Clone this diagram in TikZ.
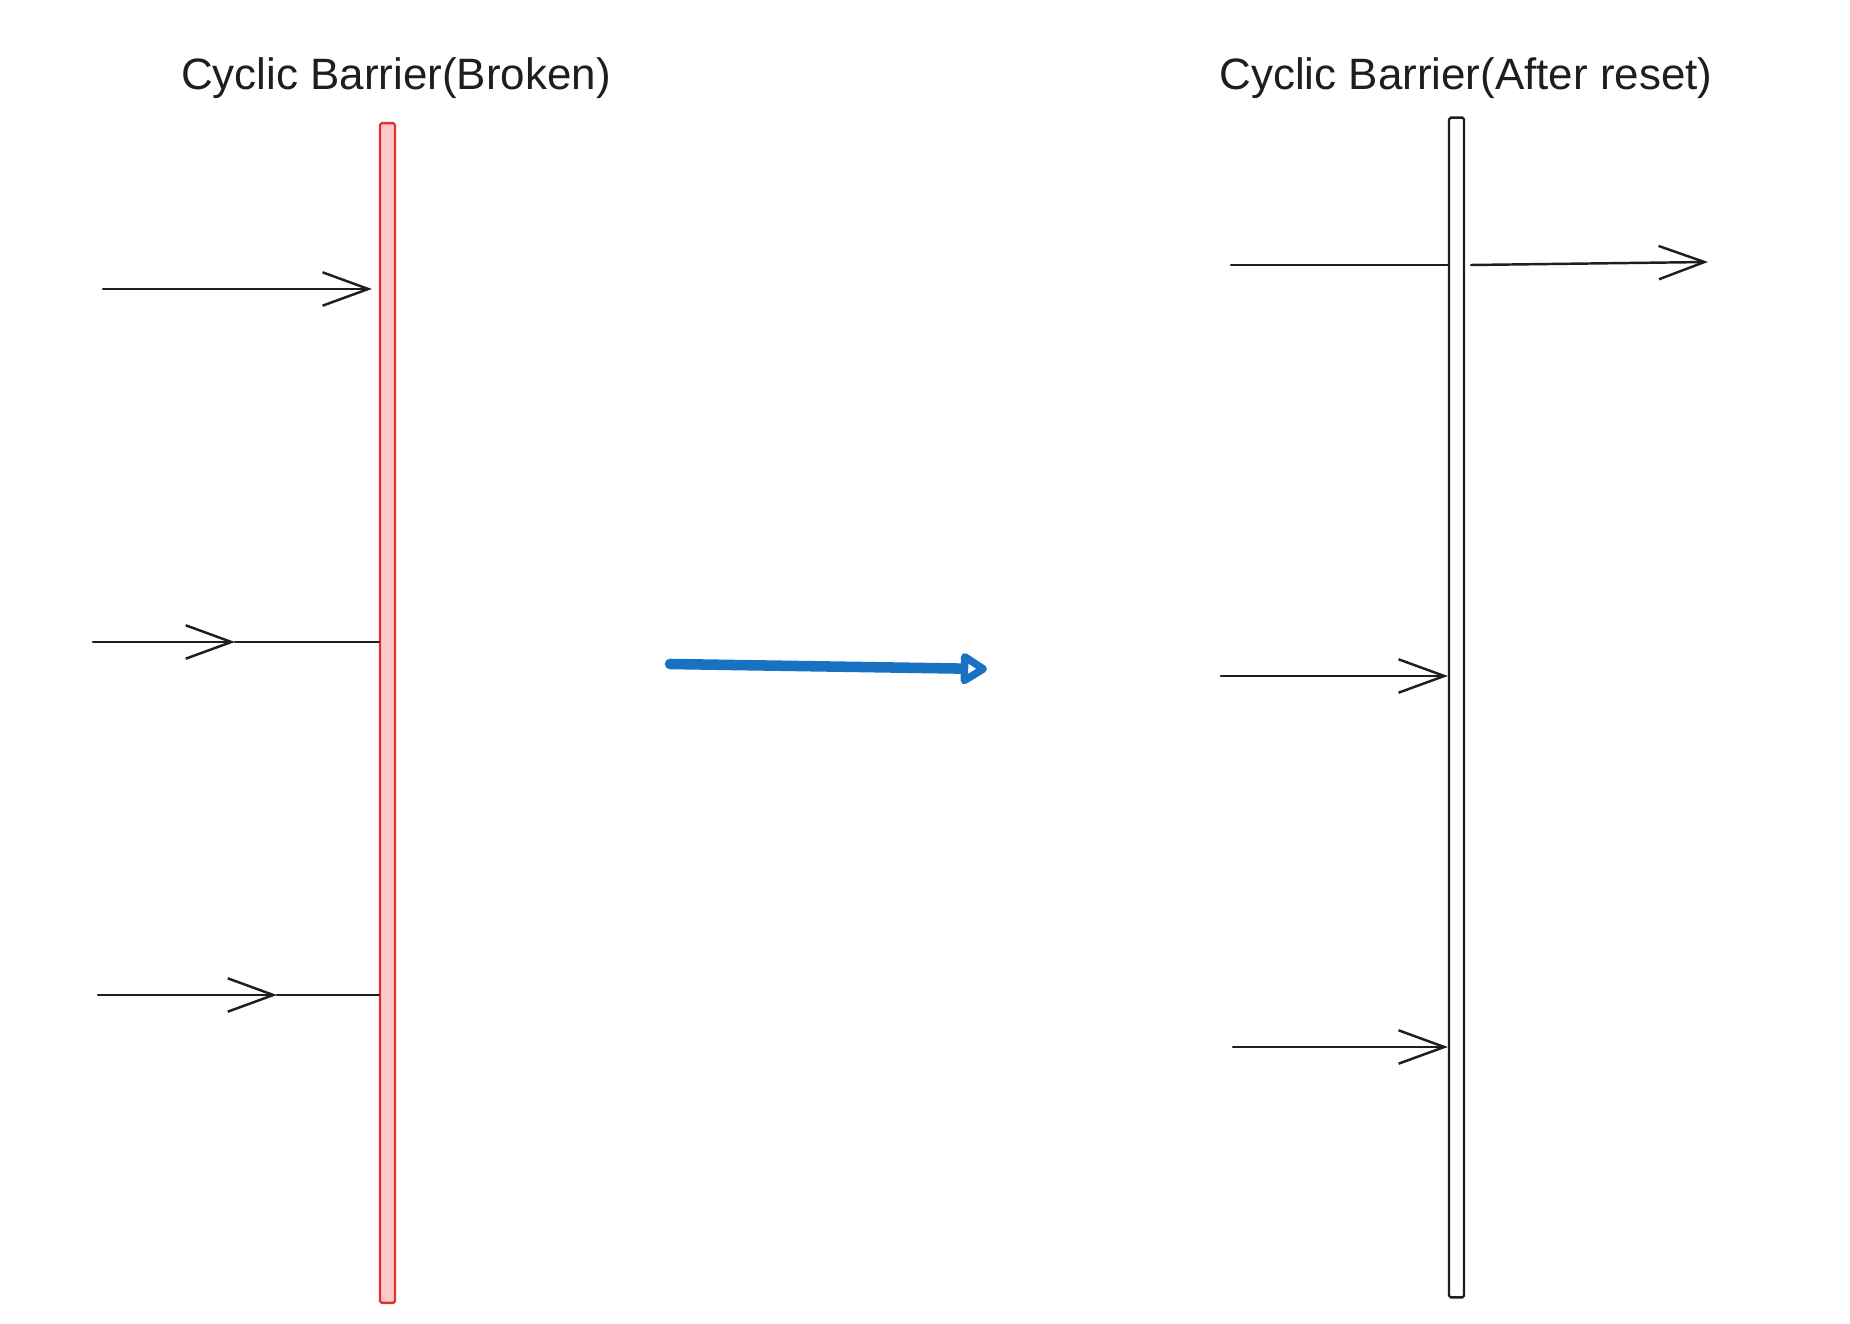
\documentclass[tikz,border=0pt]{standalone}
\usepackage{fontspec}
\setmainfont{Liberation Sans}
\usetikzlibrary{arrows.meta,positioning,calc}
\definecolor{inkblack}{HTML}{1E1E1E}
\definecolor{brokenred}{HTML}{E03131}
\definecolor{brokenfill}{HTML}{FFC9C9}
\definecolor{resetblue}{HTML}{1971C2}

\begin{document}
\begin{tikzpicture}[
  x=0.02cm, y=-0.02cm,
  bar/.style={draw, rounded corners=1pt, minimum width=0.3cm, minimum height=23.6cm, inner sep=0pt, line width=1.3pt},
  broken/.style={bar, draw=brokenred, fill=brokenfill},
  resetbar/.style={bar, draw=inkblack, fill=white},
  title/.style={anchor=base, font=\fontsize{25}{30}\selectfont, text=inkblack},
  plain/.style={draw=inkblack, line width=1.4pt, line cap=round},
  flow/.style={plain, -{Straight Barb[length=26pt, width=19pt]}},
  transit/.style={draw=resetblue, line width=6pt, line cap=round, -{Triangle[open, length=17pt, width=20pt, round]}},
]
\useasboundingbox (0,0) rectangle (1850,1324);

\node[title] (tbrk) at (396,90) {Cyclic Barrier(Broken)};
\node[title] (trst) at (1466,90) {Cyclic Barrier(After reset)};

\node[broken] (brk) at (387.5,713) {};
\node[resetbar] (rst) at (1456.5,707.5) {};

% threads waiting on the broken barrier
\coordinate (in1) at (103,289);
\coordinate (in2) at (93,642);
\coordinate (mid2) at (235,642);
\coordinate (in3) at (98,995);
\coordinate (mid3) at (277,995);
\draw[flow] (in1) -- ($(in1 -| brk.west)+(-7,0)$);
\draw[flow] (in2) -- (mid2);
\draw[plain] (mid2) -- (mid2 -| brk.west);
\draw[flow] (in3) -- (mid3);
\draw[plain] (mid3) -- (mid3 -| brk.west);

% reset
\coordinate (rs0) at (670,664);
\coordinate (rs1) at (987,669);
\draw[transit] (rs0) -- (rs1);

% threads on the reset barrier
\coordinate (out1) at (1231,265);
\coordinate (go1) at (1708,262);
\coordinate (out2) at (1221,676);
\coordinate (out3) at (1233,1047);
\draw[plain] (out1) -- (out1 -| rst.west);
\draw[flow] ($(out1 -| rst.east)+(6,0)$) -- (go1);
\draw[flow] (out2) -- (out2 -| rst.west);
\draw[flow] (out3) -- (out3 -| rst.west);
\end{tikzpicture}
\end{document}
